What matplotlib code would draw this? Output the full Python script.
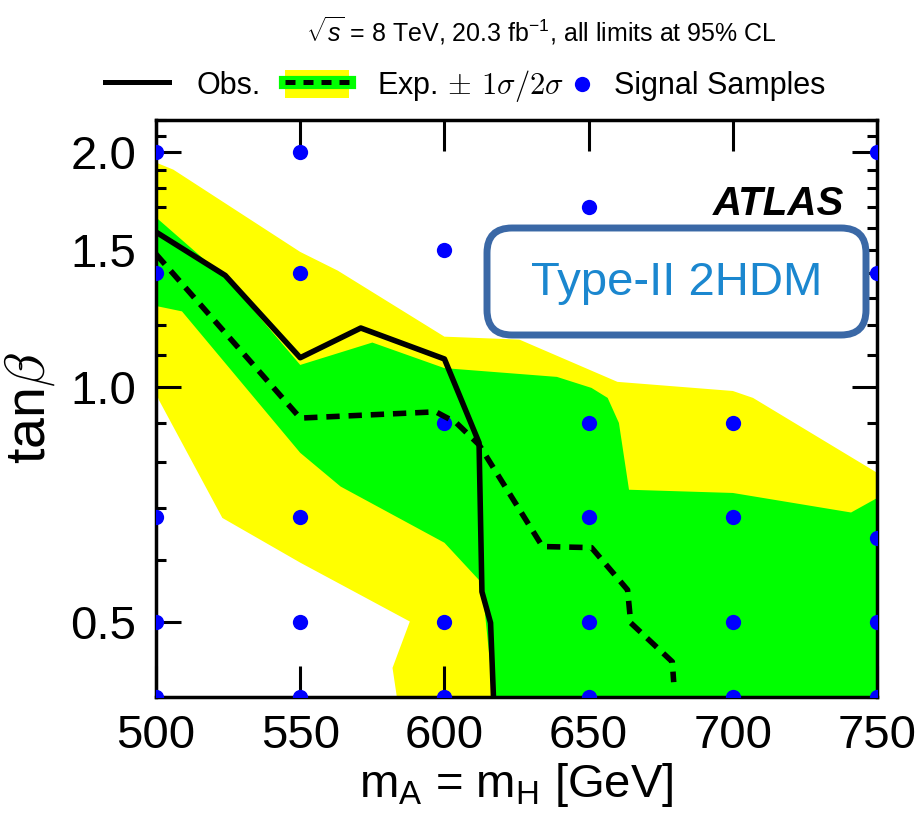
import matplotlib
matplotlib.use("Agg")
import matplotlib.pyplot as plt
from matplotlib.lines import Line2D
from matplotlib.patches import Patch, FancyBboxPatch
from matplotlib.legend_handler import HandlerTuple
from matplotlib.ticker import FixedLocator, FormatStrFormatter, NullFormatter
import numpy as np

# observed limit
obs_x = [500, 524, 550, 571, 600, 612, 613, 616, 617]
obs_y = [1.58, 1.39, 1.09, 1.19, 1.086, 0.848, 0.546, 0.498, 0.40]

# expected limit
exp_x = [500, 550, 597, 604, 612, 634, 651, 663.5, 664.6, 679, 679.5]
exp_y = [1.48, 0.912, 0.929, 0.90, 0.843, 0.624, 0.622, 0.549, 0.498, 0.444, 0.418]

# +-1 sigma band
g_up_x = [500, 525, 550, 575, 600, 639, 651, 656.6, 660.5, 664, 700, 741, 750]
g_up_y = [1.65, 1.37, 1.067, 1.14, 1.057, 1.03, 0.997, 0.968, 0.899, 0.738, 0.731, 0.69, 0.72]
g_lo_x = [617, 613, 600, 564, 550, 509, 500]
g_lo_y = [0.40, 0.56, 0.631, 0.745, 0.823, 1.25, 1.27]

# +-2 sigma band
y_up_x = [500, 506, 550, 563, 600, 626, 660, 700, 707, 750]
y_up_y = [1.94, 1.90, 1.49, 1.41, 1.16, 1.15, 1.015, 0.988, 0.968, 0.776]
y_lo_x = [583.5, 582, 588, 550, 523, 501, 500]
y_lo_y = [0.40, 0.436, 0.5, 0.595, 0.679, 0.962, 0.985]

# signal samples
sig_500 = [2.0, 1.4, 0.68, 0.5, 0.4]
sig_550 = [2.0, 1.4, 0.68, 0.5, 0.4]
sig_600 = [1.5, 0.9, 0.5, 0.4]
sig_650 = [1.7, 0.9, 0.68, 0.5, 0.4]
sig_700 = [1.7, 0.9, 0.68, 0.5, 0.4]
sig_750 = [2.0, 1.4, 0.64, 0.5, 0.4]
sig_masses = [500, 550, 600, 650, 700, 750]

x_ticks = [500, 550, 600, 650, 700, 750]
y_ticks = [0.5, 1.0, 1.5, 2.0]

plt.rcParams["font.family"] = ["Liberation Sans", "DejaVu Sans"]
plt.rcParams["mathtext.fontset"] = "custom"
plt.rcParams["mathtext.rm"] = "Liberation Sans"
plt.rcParams["mathtext.it"] = "Liberation Sans:italic"
plt.rcParams["mathtext.bf"] = "Liberation Sans:bold"

fig = plt.figure(figsize=(9.2, 8.22), dpi=100)
ax = fig.add_axes([0.1696, 0.152, 0.7837, 0.702])

ax.fill(y_up_x + [750] + y_lo_x, y_up_y + [0.4] + y_lo_y, color="#ffff00", lw=0, zorder=1)
ax.fill(g_up_x + [750] + g_lo_x, g_up_y + [0.4] + g_lo_y, color="#00ff00", lw=0, zorder=2)

sig_all = [sig_500, sig_550, sig_600, sig_650, sig_700, sig_750]
sx = []
sy = []
for m, vals in zip(sig_masses, sig_all):
    sx += [m] * len(vals)
    sy += vals
ax.plot(sx, sy, "o", color="#0000ff", ms=11, mew=0, zorder=3)

ax.plot(exp_x, exp_y, color="black", lw=4, ls=(0, (2.4, 1.6)), zorder=4)
ax.plot(obs_x, obs_y, color="black", lw=4, zorder=5)

ax.set_yscale("log")
ax.set_xlim(500, 750)
ax.set_ylim(0.4, 2.2)
ax.xaxis.set_major_locator(FixedLocator(x_ticks))
ax.yaxis.set_major_locator(FixedLocator(y_ticks))
ax.yaxis.set_major_formatter(FormatStrFormatter("%.1f"))
minors = [v for v in np.round(np.arange(0.4, 2.25, 0.1), 1) if v not in y_ticks]
ax.yaxis.set_minor_locator(FixedLocator(minors))
ax.yaxis.set_minor_formatter(NullFormatter())
ax.xaxis.set_minor_locator(FixedLocator([]))

ax.tick_params(axis="both", which="major", direction="in", top=True, right=True,
               length=22, width=2.2, labelsize=34)
ax.tick_params(axis="y", which="major", length=18, pad=14)
ax.tick_params(axis="x", which="major", pad=12)
ax.tick_params(axis="y", which="minor", direction="in", right=True, length=7.5, width=2.2)
for s in ax.spines.values():
    s.set_linewidth(2.5)

ax.set_xlabel("m$_{\\mathrm{A}}$ = m$_{\\mathrm{H}}$ [GeV]", fontsize=34, labelpad=2)
ylab = ax.set_ylabel("tan$\\beta$", fontsize=40, labelpad=10)
ylab.set_math_fontfamily("cm")

ax.text(0.955, 0.855, "ATLAS", transform=ax.transAxes, ha="right", va="center",
        fontsize=29, fontweight="bold", fontstyle="italic", zorder=6,
        bbox=dict(facecolor="white", edgecolor="none", pad=1))

box = FancyBboxPatch((4.87, 4.87), 3.79, 1.07, boxstyle="round,pad=0,rounding_size=0.25",
                     transform=fig.dpi_scale_trans, facecolor="white",
                     edgecolor="#3a68a6", lw=5, zorder=7)
fig.add_artist(box)
fig.text(6.765 / 9.2, 5.39 / 8.22, "Type-II 2HDM", ha="center", va="center",
         fontsize=34, color="#1b87cf", zorder=8)

fig.text(0.588, 0.962, "$\\sqrt{s}$ = 8 TeV, 20.3 fb$^{-1}$, all limits at 95% CL",
         ha="center", va="center", fontsize=18)

h_obs = Line2D([], [], color="black", lw=3.6)
h_exp = (Patch(facecolor="#ffff00", edgecolor="none"),
         Line2D([], [], color="#00ff00", lw=9.5),
         Line2D([], [], color="black", lw=3.6, ls=(0, (2.0, 1.6))))
h_sig = Line2D([], [], ls="none", marker="o", color="#0000ff", ms=11, mew=0)

leg1 = fig.legend([h_obs, h_exp], ["Obs.", "Exp.$\\,\\pm\\,1\\sigma/2\\sigma$"],
                  handler_map={tuple: HandlerTuple(ndivide=1)},
                  loc="center left", bbox_to_anchor=(0.114, 0.895), ncol=2, frameon=False,
                  fontsize=22, handlelength=2.1, handleheight=1.0, handletextpad=0.9,
                  columnspacing=0.8, borderpad=0, borderaxespad=0)
leg1.get_texts()[1].set_math_fontfamily("cm")
leg2 = fig.legend([h_sig], ["Signal Samples"], loc="center left",
                  bbox_to_anchor=(0.624, 0.895), frameon=False, fontsize=22,
                  handlelength=0.5, handletextpad=0.81, borderpad=0, borderaxespad=0)

fig.savefig("out.png", dpi=100)
